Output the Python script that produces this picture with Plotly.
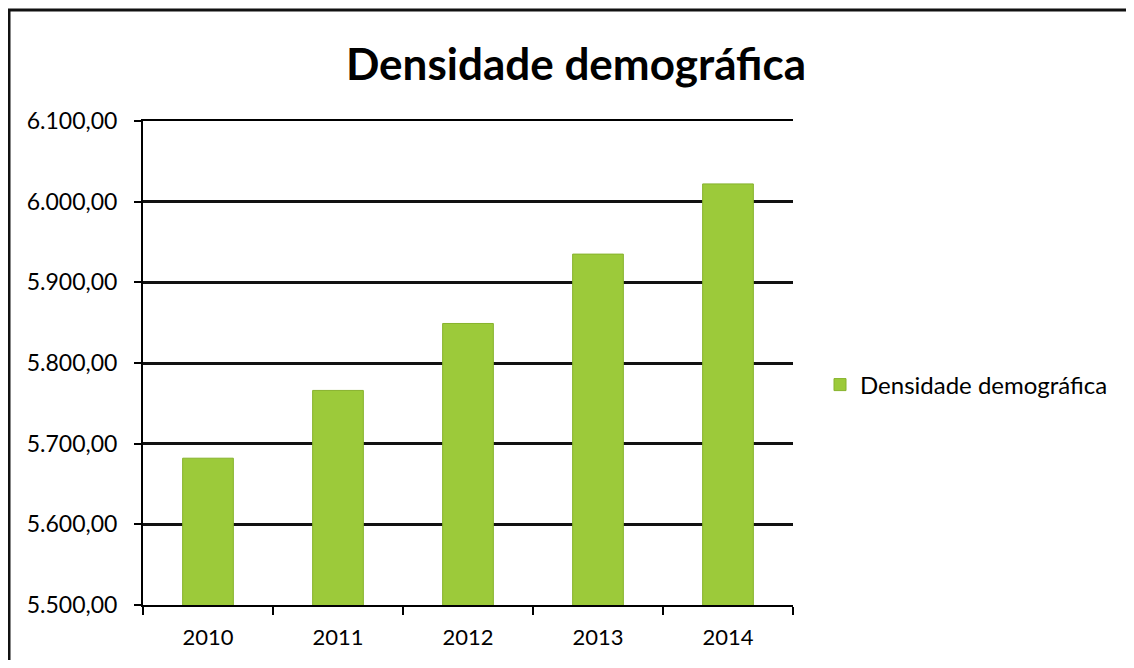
import plotly.graph_objects as go

years = ["2010", "2011", "2012", "2013", "2014"]
densidade = [5682, 5766, 5849, 5935, 6022]
series_name = "Densidade demográfica"
title_text = "Densidade demográfica"
y_ticks = [5500, 5600, 5700, 5800, 5900, 6000, 6100]

# page body has an 8px margin; work in figure coordinates
OFF = 8
W, H = 1118, 652
L, R, T, B = 143 - OFF, 793 - OFF, 121 - OFF, 605 - OFF

def px_x(p):
    return (p - OFF - L) / (R - L)

def px_y(p):
    return (B - (p - OFF)) / (B - T)

font = "Lato"

fig = go.Figure()
fig.add_trace(go.Bar(
    x=years, y=densidade, name=series_name,
    marker=dict(color="#9CCA3A", line=dict(color="#86B22C", width=1)),
    width=0.39,
))

fig.update_layout(
    width=W, height=H,
    margin=dict(l=L, r=W - R, t=T, b=H - B, autoexpand=False),
    paper_bgcolor="white", plot_bgcolor="white",
    separators=",.",
    title=dict(text="<b>" + title_text + "</b>", x=(576 - OFF) / W, xanchor="center",
               y=1 - (65 - OFF) / H, yanchor="middle",
               font=dict(family=font, size=44, color="#000")),
    showlegend=True,
    legend=dict(x=px_x(820), xanchor="left", y=px_y(385), yanchor="middle",
                font=dict(family=font, size=24, color="#000"),
                itemwidth=30, bgcolor="rgba(0,0,0,0)"),
    bargap=0.6,
)
fig.update_xaxes(
    type="category", showline=True, linecolor="#000", linewidth=2, mirror=True,
    ticks="outside", tickson="boundaries", ticklen=8, tickcolor="#000", tickwidth=2,
    ticklabelstandoff=12, automargin=False,
    tickfont=dict(family=font, size=22, color="#000"), showgrid=False,
)
fig.update_yaxes(
    range=[5500, 6100], tickvals=y_ticks, tickformat=",.2f",
    showline=True, linecolor="#000", linewidth=2,
    ticks="outside", ticklen=7, tickcolor="#000", tickwidth=2,
    ticklabelstandoff=12, automargin=False,
    showgrid=True, gridcolor="#111", gridwidth=2.5, zeroline=False,
    tickfont=dict(family=font, size=23, color="#000"),
)
# outer chart border: top and left edges only
fig.add_shape(type="line", xref="paper", yref="paper",
              x0=px_x(8), x1=px_x(1126), y0=px_y(10), y1=px_y(10),
              line=dict(color="#111", width=3), layer="above")
fig.add_shape(type="line", xref="paper", yref="paper",
              x0=px_x(9), x1=px_x(9), y0=px_y(10), y1=px_y(660),
              line=dict(color="#111", width=3), layer="above")

fig.write_html("out.html")
